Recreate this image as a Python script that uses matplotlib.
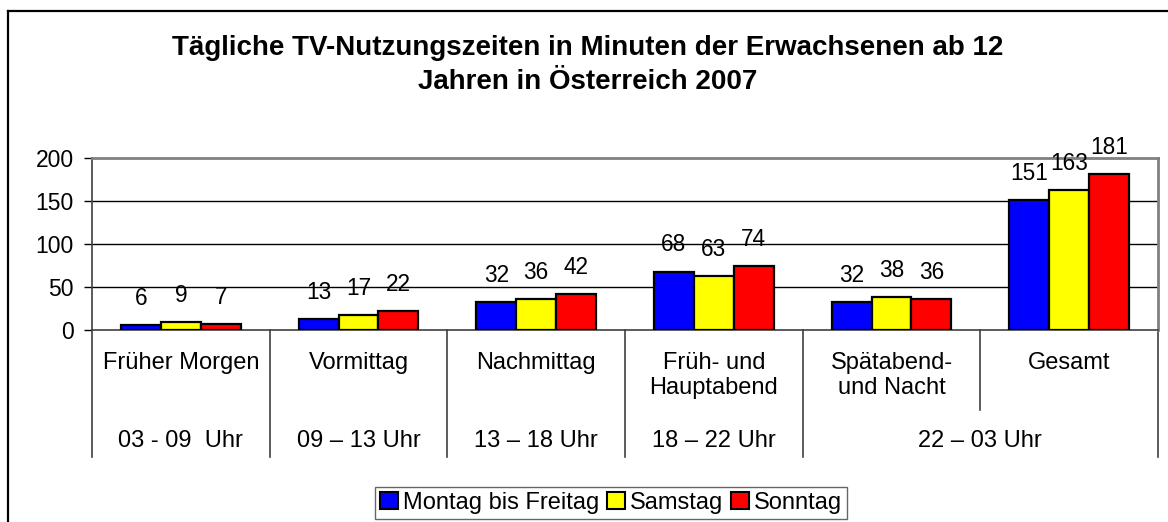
import matplotlib
matplotlib.use("Agg")
import matplotlib.pyplot as plt
import matplotlib.transforms as mtransforms
from matplotlib.patches import Patch
from matplotlib.lines import Line2D

plt.rcParams['font.family'] = ['Liberation Sans', 'DejaVu Sans']

categories = ["Früher Morgen", "Vormittag", "Nachmittag", "Früh- und\nHauptabend",
              "Spätabend-\nund Nacht", "Gesamt"]
time_labels = ["03 - 09  Uhr", "09 – 13 Uhr", "13 – 18 Uhr", "18 – 22 Uhr", "22 – 03 Uhr"]
time_spans = [(0, 0), (1, 1), (2, 2), (3, 3), (4, 5)]
series_names = ["Montag bis Freitag", "Samstag", "Sonntag"]
mo_fr = [6, 13, 32, 68, 32, 151]
samstag = [9, 17, 36, 63, 38, 163]
sonntag = [7, 22, 42, 74, 36, 181]
colors = ["#0000FF", "#FFFF00", "#FF0000"]
yticks = [0, 50, 100, 150, 200]

W, H = 1168, 522
fig = plt.figure(figsize=(W / 100, H / 100), dpi=100)
L, R, T, B = 92, 1158, 158, 330
ax = fig.add_axes([L / W, 1 - B / H, (R - L) / W, (B - T) / H])

fs = 17
bw = 0.225
series = [mo_fr, samstag, sonntag]
n = len(categories)
for i, (vals, c) in enumerate(zip(series, colors)):
    xs = [k + (i - 1) * bw for k in range(n)]
    ax.bar(xs, vals, width=bw, color=c, edgecolor="black", linewidth=1.6, zorder=3)
    for x, v in zip(xs, vals):
        ax.annotate(str(v), (x, v), xytext=(0, 11), textcoords="offset points",
                    ha="center", va="bottom", fontsize=16.3)

ax.set_xlim(-0.5, n - 0.5)
ax.set_ylim(0, 200)
ax.set_yticks(yticks)
ax.set_yticklabels([str(t) for t in yticks], fontsize=16.5)
ax.tick_params(axis="y", length=6, width=1, pad=7, direction="out")
ax.set_xticks([])
for y in yticks[1:-1]:
    ax.axhline(y, color="black", lw=1, zorder=1)
ax.spines["top"].set_color("#808080")
ax.spines["right"].set_color("#808080")
ax.spines["top"].set_linewidth(2)
ax.spines["right"].set_linewidth(2)
ax.spines["left"].set_color("#404040")
ax.spines["bottom"].set_color("#404040")
ax.spines["left"].set_linewidth(1.2)
ax.spines["bottom"].set_linewidth(1.2)

trans = mtransforms.blended_transform_factory(ax.transData, ax.transAxes)
ah = B - T
y_full = (B - 457) / ah
y_short = (B - 410) / ah
bounds = set()
for a, b in time_spans:
    bounds.add(a - 0.5)
    bounds.add(b + 0.5)
for xb in sorted(bounds):
    ax.plot([xb, xb], [0, y_full], transform=trans, color="#404040", lw=1.2, clip_on=False)
for a, b in time_spans:
    for k in range(a, b):
        ax.plot([k + 0.5, k + 0.5], [0, y_short], transform=trans, color="#404040",
                lw=1.2, clip_on=False)

y_cat = (B - 352) / ah
for k, lab in enumerate(categories):
    ax.text(k, y_cat, lab, transform=trans, ha="center", va="top", fontsize=fs,
            linespacing=1.2)
y_time = (B - 441) / ah
for (a, b), lab in zip(time_spans, time_labels):
    ax.text((a + b) / 2, y_time, lab, transform=trans, ha="center", va="center", fontsize=fs)

fig.text(588 / W, 1 - 65 / H,
         "Tägliche TV-Nutzungszeiten in Minuten der Erwachsenen ab 12\nJahren in Österreich 2007",
         ha="center", va="center", fontsize=20, fontweight="bold", linespacing=1.38)

handles = [Patch(facecolor=c, edgecolor="black", linewidth=1.5) for c in colors]
leg = fig.legend(handles, series_names, loc="center", bbox_to_anchor=(611 / W, 1 - 503 / H),
                 ncol=3, fontsize=fs, frameon=True, fancybox=False, handlelength=0.75,
                 handleheight=0.75, handletextpad=0.2, columnspacing=0.35,
                 borderpad=0.22, borderaxespad=0)
leg.get_frame().set_edgecolor("#404040")
leg.get_frame().set_linewidth(1.0)

fig.add_artist(Line2D([8 / W, 8 / W], [0, 1 - 11 / H], transform=fig.transFigure,
                      color="black", lw=1.6))
fig.add_artist(Line2D([8 / W, 1], [1 - 11 / H, 1 - 11 / H], transform=fig.transFigure,
                      color="black", lw=1.6))

fig.savefig("out.png", dpi=100)
